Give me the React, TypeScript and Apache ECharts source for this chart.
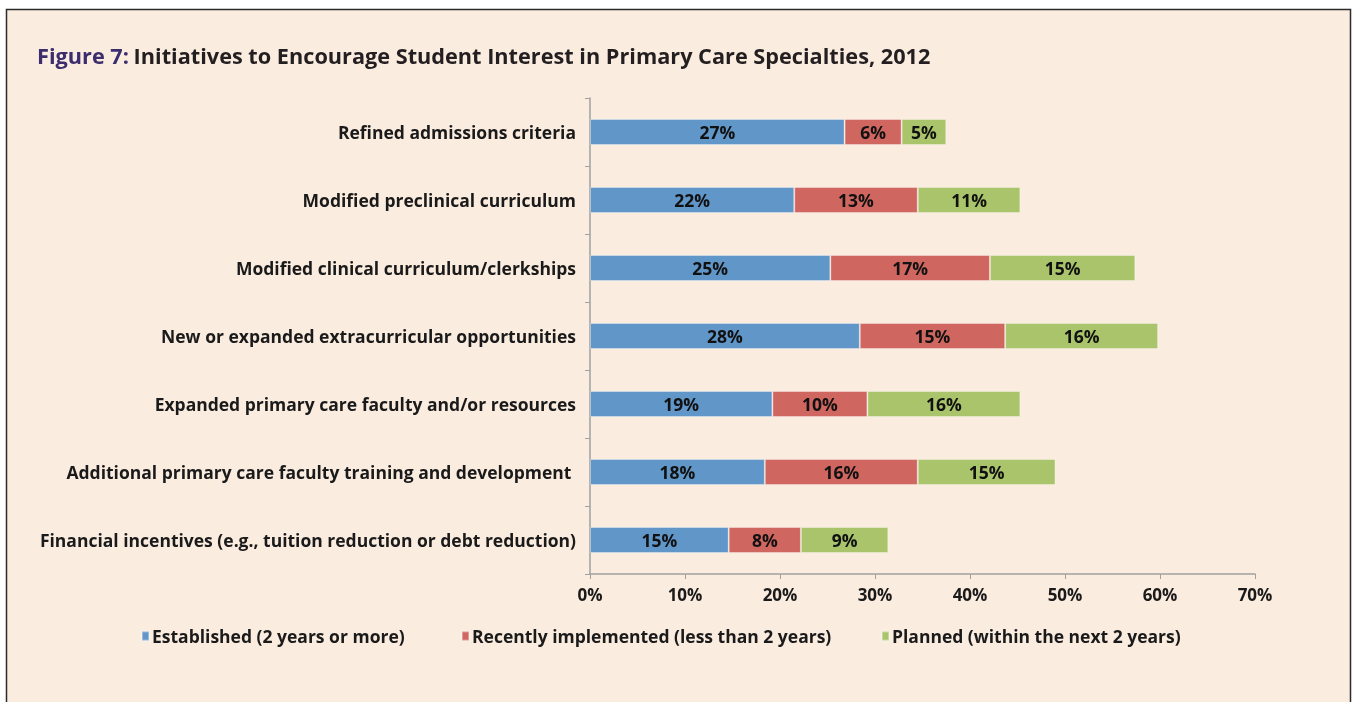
import React, { useEffect, useRef } from "react";
import * as echarts from "echarts";

const categories = [
  "Refined admissions criteria",
  "Modified preclinical curriculum",
  "Modified clinical curriculum/clerkships",
  "New or expanded extracurricular opportunities",
  "Expanded primary care faculty and/or resources",
  "Additional primary care faculty training and development ",
  "Financial incentives (e.g., tuition reduction or debt reduction)",
];
const established = [26.8, 21.5, 25.3, 28.4, 19.2, 18.4, 14.6];
const recent = [6.0, 13.0, 16.8, 15.3, 10.0, 16.1, 7.6];
const planned = [4.7, 10.8, 15.3, 16.1, 16.1, 14.5, 9.2];
const seriesNames = [
  "Established (2 years or more)",
  "Recently implemented (less than 2 years)",
  "Planned (within the next 2 years)",
];
const xTicks = [0, 10, 20, 30, 40, 50, 60, 70];

const FONT = "'Open Sans', 'Noto Sans', sans-serif";
const colors = ["#6096C8", "#CF6660", "#A9C46A"];

export default function App() {
  const ref = useRef<HTMLDivElement>(null);
  useEffect(() => {
    if (!ref.current) return;
    const chart = echarts.init(ref.current, undefined, { renderer: "svg" });
    const data = [established, recent, planned];
    const legendLefts = [141, 461, 881];
    chart.setOption({
      animation: false,
      textStyle: { fontFamily: FONT },
      graphic: [
        {
          type: "rect",
          z: -10,
          shape: { x: 6.5, y: 9.5, width: 1344, height: 720 },
          style: { fill: "#FBECE0", stroke: "#2B2B2B", lineWidth: 1.5 },
        },
      ],
      title: {
        left: 37,
        top: 44,
        padding: 0,
        text: "{a|Figure 7:} {b|Initiatives to Encourage Student Interest in Primary Care Specialties, 2012}",
        textStyle: {
          rich: {
            a: { color: "#3B2D6E", fontSize: 21.7, fontWeight: "bold", fontFamily: FONT },
            b: { color: "#231F20", fontSize: 21.7, fontWeight: "bold", fontFamily: FONT },
          },
        },
      },
      legend: seriesNames.map((n, i) => ({
        data: [n],
        left: legendLefts[i],
        top: 627,
        padding: 0,
        itemWidth: 7,
        itemHeight: 9,
        itemGap: 0,
        icon: "rect",
        textStyle: { fontSize: 17.5, fontWeight: "bold", color: "#1A1A1A", fontFamily: FONT, padding: [4, 0, 0, -2] },
      })),
      grid: { left: 590, right: 98, top: 98, bottom: 128, containLabel: false },
      xAxis: {
        type: "value",
        min: 0,
        max: 70,
        interval: 10,
        splitLine: { show: false },
        axisLine: { show: true, lineStyle: { color: "#A0A0A0", width: 1.5 } },
        axisTick: { show: true, length: 5, lineStyle: { color: "#A0A0A0" } },
        axisLabel: {
          formatter: (v: number) => (xTicks.includes(v) ? v + "%" : ""),
          fontSize: 17,
          fontWeight: "bold",
          color: "#1A1A1A",
          margin: 12,
          fontFamily: FONT,
        },
      },
      yAxis: {
        type: "category",
        inverse: true,
        data: categories,
        axisLine: { show: true, lineStyle: { color: "#A0A0A0", width: 1.5 } },
        axisTick: { show: true, length: 5, alignWithLabel: false, lineStyle: { color: "#A0A0A0" } },
        axisLabel: {
          fontSize: 17.5,
          fontWeight: "bold",
          color: "#1A1A1A",
          margin: 14,
          fontFamily: FONT,
        },
      },
      series: seriesNames.map((n, i) => ({
        name: n,
        type: "bar",
        stack: "total",
        barWidth: 26,
        data: data[i],
        itemStyle: { color: colors[i], borderColor: "rgba(255,255,255,0.35)", borderWidth: 1 },
        label: {
          show: true,
          position: "inside",
          formatter: (p: any) => Math.round(p.value) + "%",
          fontSize: 17.5,
          fontWeight: "bold",
          color: "#111111",
          fontFamily: FONT,
        },
      })),
    });
    return () => chart.dispose();
  }, []);
  return (
    <div
      ref={ref}
      style={{ position: "fixed", left: 0, top: 0, width: 1353, height: 702 }}
    />
  );
}
